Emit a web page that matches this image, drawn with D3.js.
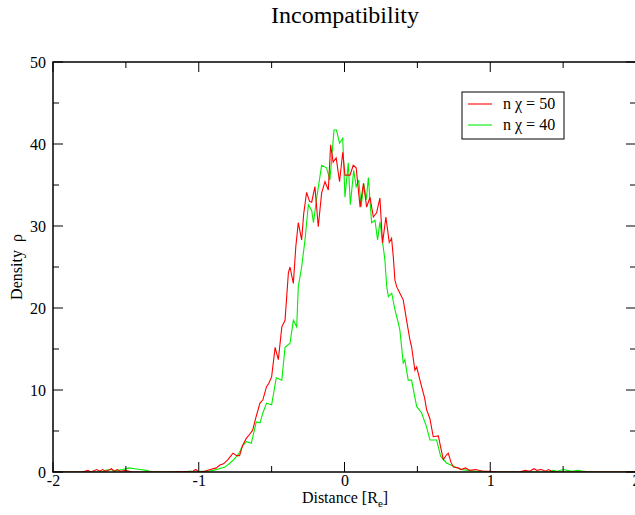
<!DOCTYPE html>
<html>
<head>
<meta charset="utf-8">
<script src="https://cdn.jsdelivr.net/npm/d3@7"></script>
<style>
body{margin:0;background:#fff;}
svg{display:block;}
text{font-family:"Liberation Serif","DejaVu Serif",serif;fill:#000;}
</style>
</head>
<body>
<svg id="chart" width="635" height="515"></svg>
<script>
const titleText = "Incompatibility";
const xTicks = [-2, -1, 0, 1, 2];
const yTicks = [0, 10, 20, 30, 40, 50];
const seriesNames = ["n \u03c7 = 50", "n \u03c7 = 40"];
const seriesColors = ["#ff0000", "#00ee00"];

const redX = [-2.0,-1.80,-1.76,-1.74,-1.70,-1.68,-1.66,-1.64,-1.62,-1.60,-1.58,-1.56,-1.54,-1.50,-1.46,-1.20,-1.04,-1.02,-1.00,-0.96,-0.92,-0.88,-0.855,-0.83,-0.80,-0.765,-0.74,-0.72,-0.70,-0.674,-0.65,-0.63,-0.61,-0.58,-0.56,-0.535,-0.52,-0.50,-0.476,-0.454,-0.43,-0.408,-0.385,-0.374,-0.351,-0.334,-0.317,-0.294,-0.28,-0.26,-0.24,-0.225,-0.203,-0.18,-0.157,-0.134,-0.111,-0.095,-0.078,-0.057,-0.034,-0.012,0.003,0.038,0.06,0.08,0.107,0.13,0.152,0.175,0.198,0.22,0.243,0.261,0.284,0.307,0.323,0.335,0.346,0.358,0.38,0.403,0.426,0.449,0.46,0.483,0.495,0.529,0.55,0.563,0.586,0.609,0.644,0.66,0.678,0.70,0.712,0.73,0.747,0.78,0.80,0.83,0.86,0.90,0.95,1.0,1.05,1.2,1.24,1.27,1.30,1.32,1.35,1.38,1.40,1.42,1.45,2.0];
const redY = [0,0,0.2,0,0.3,0.1,0.3,0.1,0.2,0.4,0.1,0.3,0.1,0.2,0,0,0.1,0.3,0,0.1,0.3,0.5,0.85,1.0,1.5,2.3,2.0,2.0,3.2,4.1,4.6,5.1,6.5,8.4,8.8,10.4,10.8,11.6,15.2,13.7,17.7,18.5,24.3,25.0,23.0,27.5,30.4,28.3,31.5,34.1,33.0,32.9,34.8,29.9,34.0,35.4,34.4,39.9,37.8,38.3,35.4,39.0,36.2,36.2,37.4,37.1,32.3,35.2,32.3,33.5,31.1,31.6,33.4,27.9,31.1,28.0,28.5,26.2,23.4,22.6,21.8,21.0,18.5,16.1,15.3,12.4,12.8,10.4,9.0,7.6,6.5,4.3,4.4,3.0,1.5,2.1,2.3,1.2,0.6,0.5,0.3,0.5,0.2,0.3,0.1,0.1,0,0,0.2,0.1,0.4,0.2,0.3,0.1,0.3,0.1,0,0];

const greenX = [-2.0,-1.66,-1.64,-1.60,-1.58,-1.56,-1.52,-1.48,-1.44,-1.40,-1.36,-1.32,-1.10,-1.06,-1.02,-0.98,-0.94,-0.90,-0.86,-0.82,-0.785,-0.76,-0.74,-0.72,-0.70,-0.674,-0.64,-0.605,-0.58,-0.56,-0.535,-0.50,-0.468,-0.43,-0.408,-0.374,-0.351,-0.328,-0.317,-0.294,-0.271,-0.248,-0.225,-0.213,-0.19,-0.157,-0.123,-0.10,-0.072,-0.055,-0.034,-0.012,0.003,0.026,0.04,0.063,0.08,0.098,0.114,0.132,0.149,0.164,0.186,0.209,0.227,0.243,0.266,0.277,0.283,0.29,0.301,0.324,0.346,0.369,0.38,0.403,0.414,0.437,0.46,0.495,0.529,0.563,0.586,0.632,0.66,0.70,0.76,0.80,0.85,0.90,0.95,1.0,1.40,1.43,1.46,1.50,1.53,1.56,1.60,1.64,1.68,2.0];
const greenY = [0,0,0.2,0.3,0.1,0.2,0.3,0.5,0.4,0.3,0.2,0,0,0.1,0,0.1,0.1,0.2,0.4,0.6,1.1,1.5,1.9,2.4,3.2,3.7,3.5,6.1,6.0,7.2,8.4,8.2,11.5,11.2,15.2,15.7,18.5,17.7,22.6,25.0,28.3,32.6,31.9,30.4,33.5,37.4,37.1,35.6,41.7,41.7,40.1,40.7,33.5,37.7,32.6,36.8,34.8,35.6,32.3,35.2,33.2,35.9,30.4,30.7,28.3,30.5,27.4,25.9,24.3,22.6,21.4,21.8,19.8,18.2,17.3,13.3,13.7,11.2,11.2,8.0,7.2,5.5,3.9,3.9,1.9,1.1,0.6,0.3,0.2,0.1,0.1,0,0,0.2,0.1,0.3,0.2,0.1,0.2,0.1,0,0];

const svg = d3.select("#chart");
const L = 53, R = 636, T = 62, B = 472;
const x = d3.scaleLinear().domain([-2, 2]).range([L, R]);
const y = d3.scaleLinear().domain([0, 50]).range([B, T]);
const fmt = d => String(d); // plain hyphen-minus like the reference

// title
svg.append("text").attr("x", 345).attr("y", 23).attr("text-anchor", "middle")
  .style("font-size", "24px").text(titleText);

// clip
svg.append("defs").append("clipPath").attr("id", "clip")
  .append("rect").attr("x", L).attr("y", T).attr("width", R - L).attr("height", B - T);

const line = d3.line().x(d => x(d[0])).y(d => y(d[1]));
const series = [d3.zip(redX, redY), d3.zip(greenX, greenY)];
const g = svg.append("g").attr("clip-path", "url(#clip)");
g.append("path").datum(series[1]).attr("d", line).attr("fill", "none")
  .attr("stroke", seriesColors[1]).attr("stroke-width", 1.1);
g.append("path").datum(series[0]).attr("d", line).attr("fill", "none")
  .attr("stroke", seriesColors[0]).attr("stroke-width", 1.1);

// ticks pointing inward on all four sides
const xMinor = d3.range(-2, 2.01, 0.5);
const yMinor = d3.range(0, 50.1, 5);
const major = 10, minor = 6;
const ticks = svg.append("g").attr("stroke", "#000").attr("stroke-width", 1);
xMinor.forEach(v => {
  const len = Math.abs(v - Math.round(v)) < 1e-9 ? major : minor;
  ticks.append("line").attr("x1", x(v)).attr("x2", x(v)).attr("y1", B).attr("y2", B - len);
  ticks.append("line").attr("x1", x(v)).attr("x2", x(v)).attr("y1", T).attr("y2", T + len);
});
yMinor.forEach(v => {
  const len = v % 10 === 0 ? major : minor;
  ticks.append("line").attr("x1", L).attr("x2", L + len).attr("y1", y(v)).attr("y2", y(v));
  ticks.append("line").attr("x1", R).attr("x2", R - len).attr("y1", y(v)).attr("y2", y(v));
});
// frame
svg.append("rect").attr("x", L).attr("y", T).attr("width", R - L).attr("height", B - T)
  .attr("fill", "none").attr("stroke", "#000").attr("stroke-width", 1.5);

// tick labels
const xl = d3.axisBottom(x).tickValues(xTicks).tickSize(0).tickPadding(2).tickFormat(fmt);
const gx = svg.append("g").attr("transform", `translate(0,${B + 1})`).call(xl);
gx.select(".domain").remove();
gx.selectAll("text").style("font-size", "16px").style("font-family", "Liberation Serif");
const yl = d3.axisLeft(y).tickValues(yTicks).tickSize(0).tickPadding(7).tickFormat(fmt);
const gy = svg.append("g").attr("transform", `translate(${L},0)`).call(yl);
gy.select(".domain").remove();
gy.selectAll("text").style("font-size", "16px").style("font-family", "Liberation Serif");

// axis labels
const xlab = svg.append("text").attr("x", 345).attr("y", 503).attr("text-anchor", "middle").style("font-size", "16px");
xlab.append("tspan").text("Distance [R");
xlab.append("tspan").attr("dy", 4).style("font-size", "11px").text("e");
xlab.append("tspan").attr("dy", -4).text("]");
svg.append("text").attr("transform", "translate(22,267) rotate(-90)").attr("text-anchor", "middle")
  .style("font-size", "16px").text("Density\u00a0\u00a0\u03c1");

// legend
const lg = svg.append("g");
lg.append("rect").attr("x", 462).attr("y", 92).attr("width", 102).attr("height", 47)
  .attr("fill", "#fff").attr("stroke", "#000").attr("stroke-width", 1);
seriesNames.forEach((n, i) => {
  const yy = 104 + i * 21;
  lg.append("line").attr("x1", 468).attr("x2", 492).attr("y1", yy).attr("y2", yy)
    .attr("stroke", seriesColors[i]).attr("stroke-width", 1.1);
  lg.append("text").attr("x", 503).attr("y", yy + 5).style("font-size", "16px").text(n);
});
</script>
</body>
</html>
